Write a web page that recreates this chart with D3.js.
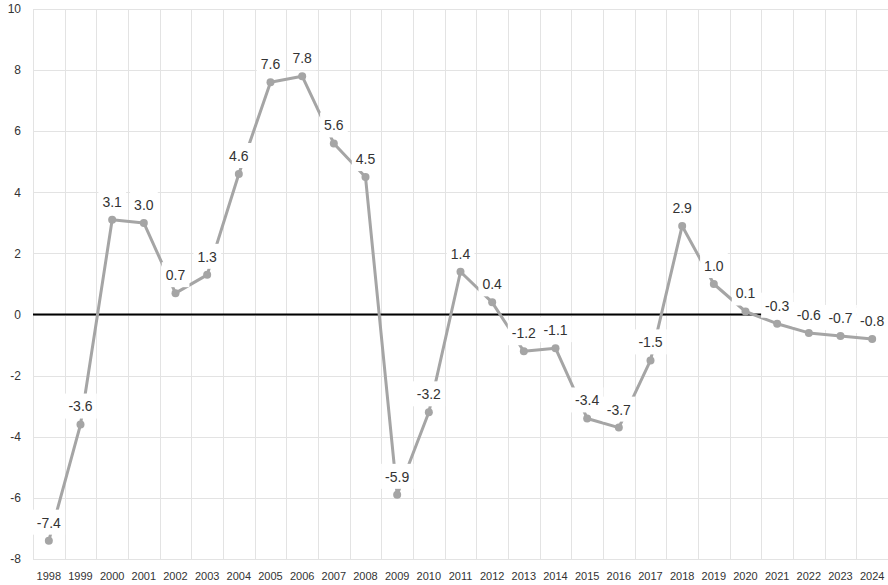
<!DOCTYPE html>
<html>
<head>
<meta charset="utf-8">
<script src="https://cdn.jsdelivr.net/npm/d3@7"></script>
<style>
    body { margin: 0; background: #fff; }
    svg { display: block; font-family: "Liberation Sans", Arial, sans-serif; }
</style>
</head>
<body>
<div class="viz"></div>
<script>
// data
const years = d3.range(1998, 2025).map(String);
const values = [
    -7.4, -3.6, 3.1, 3.0, 0.7, 1.3, 4.6, 7.6, 7.8, 5.6, 4.5, -5.9, -3.2, 1.4,
    0.4, -1.2, -1.1, -3.4, -3.7, -1.5, 2.9, 1.0, 0.1, -0.3, -0.6, -0.7, -0.8,
];
const yTicks = [-8, -6, -4, -2, 0, 2, 4, 6, 8, 10];

var margin = { top: 9, right: 0, bottom: 26, left: 33 },
    width = 888 - margin.left - margin.right,
    height = 585 - margin.top - margin.bottom;

var svg = d3
    .select(".viz")
    .append("svg")
    .attr("width", 888)
    .attr("height", 585);

var g = svg
    .append("g")
    .attr("transform", `translate(${margin.left},${margin.top})`);

var x = d3.scaleBand().domain(years).range([0, width]);
var y = d3.scaleLinear().domain([-8, 10]).range([height, 0]);

const gridColor = "#e3e3e3",
    lineColor = "#a5a5a5",
    textColor = "#333";

// horizontal gridlines
g.append("g")
    .selectAll("line")
    .data(yTicks)
    .enter()
    .append("line")
    .attr("x1", 0)
    .attr("x2", width)
    .attr("y1", (d) => Math.round(y(d)) + 0.5)
    .attr("y2", (d) => Math.round(y(d)) + 0.5)
    .attr("stroke", gridColor);

// vertical gridlines at category boundaries
var edges = years.map((d) => x(d)).concat([width]);
g.append("g")
    .selectAll("line")
    .data(edges)
    .enter()
    .append("line")
    .attr("x1", (d) => Math.round(d) + 0.5)
    .attr("x2", (d) => Math.round(d) + 0.5)
    .attr("y1", 0)
    .attr("y2", height)
    .attr("stroke", gridColor);

// y tick labels
svg.append("g")
    .selectAll("text")
    .data(yTicks)
    .enter()
    .append("text")
    .attr("x", 21)
    .attr("y", (d) => margin.top + y(d))
    .attr("dy", "0.35em")
    .attr("text-anchor", "end")
    .attr("font-size", 12)
    .attr("fill", textColor)
    .text((d) => d);

// x tick labels
g.append("g")
    .selectAll("text")
    .data(years)
    .enter()
    .append("text")
    .attr("x", (d) => x(d) + x.bandwidth() / 2)
    .attr("y", height + 17)
    .attr("dy", "0.35em")
    .attr("text-anchor", "middle")
    .attr("font-size", 11)
    .attr("fill", textColor)
    .text((d) => d);

// zero line
g.append("line")
    .attr("x1", 0)
    .attr("x2", width)
    .attr("y1", y(0))
    .attr("y2", y(0))
    .attr("stroke", "#000")
    .attr("stroke-width", 2);

var pts = years.map((d, i) => ({ year: d, value: values[i] }));
var cx = (d) => x(d.year) + x.bandwidth() / 2;

var line = d3
    .line()
    .x(cx)
    .y((d) => y(d.value));

g.append("path")
    .datum(pts)
    .attr("d", line)
    .attr("fill", "none")
    .attr("stroke", lineColor)
    .attr("stroke-width", 3)
    .attr("stroke-linejoin", "round");

g.append("g")
    .selectAll("circle")
    .data(pts)
    .enter()
    .append("circle")
    .attr("cx", cx)
    .attr("cy", (d) => y(d.value))
    .attr("r", 4)
    .attr("fill", lineColor);

// data labels with white boxes, placed above each point
var labels = g
    .append("g")
    .selectAll("g")
    .data(pts)
    .enter()
    .append("g")
    .attr("transform", (d) => `translate(${cx(d)},${y(d.value) - 18})`);

labels
    .append("text")
    .attr("text-anchor", "middle")
    .attr("dy", "0.35em")
    .attr("font-size", 14)
    .attr("fill", textColor)
    .text((d) => d.value.toFixed(1));

labels.each(function () {
    var t = d3.select(this).select("text");
    var bb = t.node().getBBox();
    d3.select(this)
        .insert("rect", "text")
        .attr("x", bb.x - 4)
        .attr("y", -13)
        .attr("width", bb.width + 8)
        .attr("height", 25)
        .attr("fill", "#fff");
});
</script>
</body>
</html>
